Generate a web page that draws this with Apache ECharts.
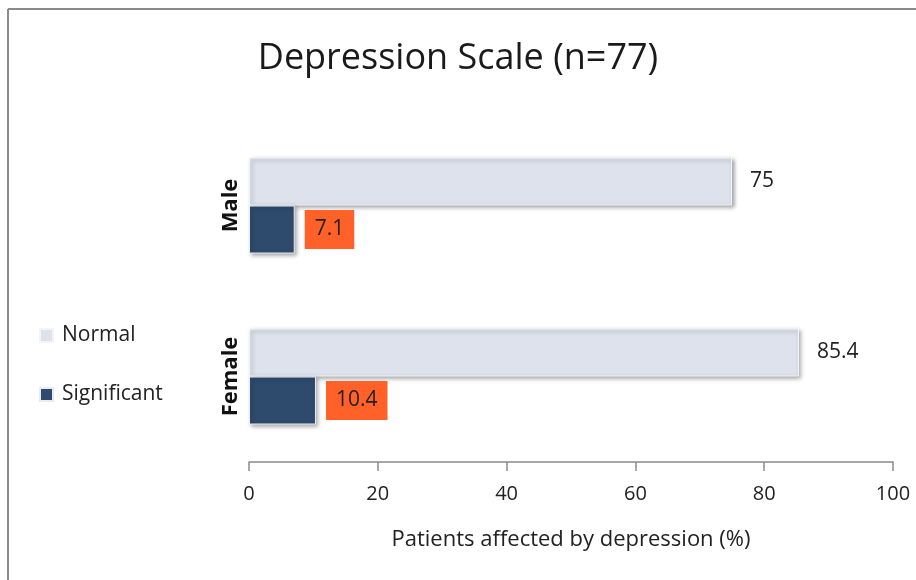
<!DOCTYPE html>
<html>
<head>
<meta charset="utf-8">
<script src="https://cdn.jsdelivr.net/npm/echarts@6/dist/echarts.min.js"></script>
<style>
  html, body { margin: 0; padding: 0; background: #ffffff; }
  #chart { width: 916px; height: 580px; }
</style>
</head>
<body>
<div id="chart"></div>
<script>
// Depression scale by sex, percentages of patients
const categories = ['Male', 'Female'];
const normalValues = [75, 85.4];
const significantValues = [7.1, 10.4];
const xTicks = [0, 20, 40, 60, 80, 100];

const FONT = '"Open Sans", sans-serif';

const chart = echarts.init(document.getElementById('chart'), null, { renderer: 'canvas' });

chart.setOption({
  backgroundColor: '#ffffff',
  animation: false,
  title: {
    text: 'Depression Scale (n=77)',
    left: 'center',
    top: 36,
    textStyle: { fontFamily: FONT, fontSize: 36, fontWeight: 'normal', color: '#1a1a1a' }
  },
  graphic: [
    { type: 'line', shape: { x1: 8, y1: 9, x2: 8, y2: 580 }, style: { stroke: '#8a8a8a', lineWidth: 2 } },
    { type: 'line', shape: { x1: 8, y1: 9, x2: 916, y2: 9 }, style: { stroke: '#8a8a8a', lineWidth: 2 } }
  ],
  legend: {
    orient: 'vertical',
    left: 34,
    top: 320,
    itemWidth: 13,
    itemHeight: 13,
    itemGap: 38,
    icon: 'rect',
    textStyle: { fontFamily: FONT, fontSize: 21, color: '#222222', padding: [0, 0, 0, 4] },
    data: ['Normal', 'Significant']
  },
  grid: { left: 249, right: 23, top: 120, height: 342, containLabel: false },
  xAxis: {
    type: 'value',
    min: xTicks[0],
    max: xTicks[xTicks.length - 1],
    interval: xTicks[1] - xTicks[0],
    name: 'Patients affected by depression (%)',
    nameLocation: 'middle',
    nameGap: 67,
    nameTextStyle: { fontFamily: FONT, fontSize: 22, color: '#222222' },
    axisLine: { show: true, lineStyle: { color: '#8a8a8a', width: 1.5 } },
    axisTick: { show: true, length: 9, lineStyle: { color: '#8a8a8a', width: 1.5 } },
    axisLabel: { fontFamily: FONT, fontSize: 20, color: '#222222', margin: 22 },
    splitLine: { show: false }
  },
  yAxis: {
    type: 'category',
    data: categories,
    inverse: true,
    axisLine: { show: false },
    axisTick: { show: false },
    axisLabel: {
      rotate: 90,
      margin: 7,
      fontFamily: FONT,
      fontSize: 22,
      fontWeight: 'bold',
      color: '#111111'
    }
  },
  series: [
    {
      name: 'Normal',
      type: 'bar',
      data: normalValues,
      barWidth: 48,
      barGap: '0%',
      itemStyle: {
        color: '#dde2ed',
        borderColor: '#f2f4f8',
        borderWidth: 1,
        shadowColor: 'rgba(0,0,0,0.35)',
        shadowBlur: 4,
        shadowOffsetX: 2,
        shadowOffsetY: 2
      },
      label: {
        show: true,
        position: 'right',
        distance: 18,
        fontFamily: FONT,
        fontSize: 21,
        color: '#222222'
      }
    },
    {
      name: 'Significant',
      type: 'bar',
      data: significantValues,
      barWidth: 48,
      barGap: '0%',
      itemStyle: {
        color: '#2e4b6e',
        borderColor: '#e8ecf2',
        borderWidth: 1,
        shadowColor: 'rgba(0,0,0,0.35)',
        shadowBlur: 4,
        shadowOffsetX: 2,
        shadowOffsetY: 2
      },
      label: {
        show: true,
        position: 'right',
        distance: 10,
        fontFamily: FONT,
        fontSize: 21,
        color: '#222222',
        backgroundColor: '#ff6128',
        padding: [9, 10, 9, 10]
      }
    }
  ]
});
</script>
</body>
</html>
